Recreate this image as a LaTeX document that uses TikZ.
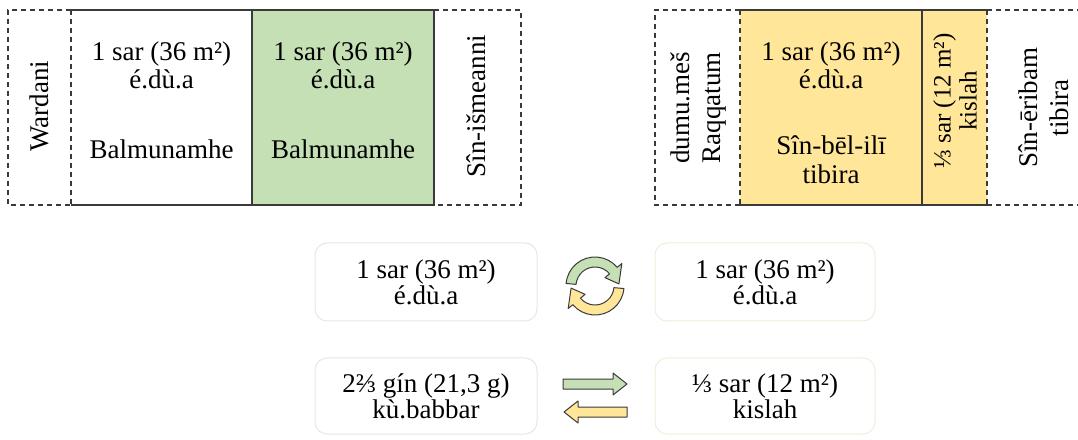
\documentclass[tikz,border=0pt]{standalone}
\usepackage{fontspec}
\setmainfont{Liberation Serif}
\newfontfamily\serf{Liberation Serif}
\definecolor{lc}{HTML}{3A3A3A}
\definecolor{gfill}{HTML}{C5E0B4}
\definecolor{yfill}{HTML}{FFE699}
\definecolor{softl}{HTML}{E6E6E2}
\definecolor{softr}{HTML}{F0EDD8}
\newcommand\fbig{\serf\fontsize{27}{31}\selectfont}
\newcommand\fmid{\serf\fontsize{25}{26}\selectfont}
\begin{document}
\begin{tikzpicture}[x=1pt,y=1pt,
  cellbox/.style={inner sep=0pt, outer sep=0pt, draw=none, minimum height=195pt},
  solidline/.style={draw=lc, line width=1.2pt},
  dashline/.style={draw=lc, line width=1.2pt, dash pattern=on 5pt off 4pt},
  txt/.style={font=\fbig, inner sep=0pt, anchor=base},
  vtxt/.style={font=\fbig, align=center, rotate=90, inner sep=0pt},
  softbox/.style={rounded corners=12pt, line width=1pt, inner sep=0pt, align=center, font=\fbig},
  fatarrow/.style={draw=lc, line width=1pt, line join=round}]
\useasboundingbox (0,0) rectangle (1078,439);
% ---------- left group ----------
\node[cellbox, minimum width=63pt] (wardani) at (39.5,331.5) {};
\node[cellbox, minimum width=181pt, fill=white] (lw) at (161.5,331.5) {};
\node[cellbox, minimum width=182pt, fill=gfill] (lg) at (343,331.5) {};
\node[cellbox, minimum width=87pt] (sini) at (477.5,331.5) {};
\draw[dashline] (lw.north west) -- (wardani.north west) -- (wardani.south west) -- (lw.south west);
\draw[dashline] (lw.north west) -- (lw.south west);
\draw[dashline] (sini.north west) -- (sini.north east) -- (sini.south east) -- (sini.south west);
\draw[solidline] (lw.north west) -- (lg.north east) -- (lg.south east) -- (lw.south west);
\draw[solidline] (lg.north west) -- (lg.south west);
\node[vtxt] (tWardani) at (39,333) {Wardani};
\node[txt] (tlw1) at (161.5,378) {1 sar (36 m²)};
\node[txt] (tlw2) at (161.5,350) {é.dù.a};
\node[txt] (tlw3) at (161.5,280) {Balmunamhe};
\node[txt] (tlg1) at (343,378) {1 sar (36 m²)};
\node[txt] (tlg2) at (343,350) {é.dù.a};
\node[txt] (tlg3) at (343,280) {Balmunamhe};
\node[vtxt] (tSini) at (476,333) {Sîn-išmeanni};
% ---------- right group ----------
\node[cellbox, minimum width=85pt] (dumu) at (697.5,331.5) {};
\node[cellbox, minimum width=182pt, fill=yfill] (ry) at (831,331.5) {};
\node[cellbox, minimum width=65pt, fill=yfill] (kis) at (954.5,331.5) {};
\node[cellbox, minimum width=113pt] (sine) at (1043.5,331.5) {};
\draw[dashline] (ry.north west) -- (dumu.north west) -- (dumu.south west) -- (ry.south west);
\draw[dashline] (ry.north west) -- (ry.south west);
\draw[dashline] (kis.north east) -- (kis.south east);
\draw[dashline] (sine.north west) -- (sine.north east);
\draw[dashline] (sine.south west) -- (sine.south east);
\draw[solidline] (ry.north west) -- (kis.north east);
\draw[solidline] (ry.south west) -- (kis.south east);
\draw[solidline] (kis.north west) -- (kis.south west);
\node[vtxt] (tDumu) at (698,331) {dumu.meš\\Raqqatum};
\node[txt] (try1) at (831,378) {1 sar (36 m²)};
\node[txt] (try2) at (831,350) {é.dù.a};
\node[txt] (try3) at (831,284) {Sîn-bēl-ilī};
\node[txt] (try4) at (831,255) {tibira};
\node[vtxt, font=\fmid] (tKis) at (955,338) {⅓ sar (12 m²)\\kislah};
\node[vtxt] (tSine) at (1044,331) {Sîn-ēribam\\tibira};
% ---------- bottom boxes ----------
\node[softbox, draw=softl, minimum width=222pt, minimum height=78pt] (b1) at (426,157) {1 sar (36 m²)\\[-5pt]é.dù.a};
\node[softbox, draw=softr, minimum width=220pt, minimum height=78pt] (b2) at (765,157) {1 sar (36 m²)\\[-5pt]é.dù.a};
\node[softbox, draw=softl, minimum width=222pt, minimum height=76pt] (b3) at (426,43) {2⅔ gín (21,3 g)\\[-5pt]kù.babbar};
\node[softbox, draw=softr, minimum width=220pt, minimum height=76pt] (b4) at (765,43) {⅓ sar (12 m²)\\[-5pt]kislah};
% ---------- circular arrows ----------
\coordinate (cyc) at (595,153);
\draw[fatarrow, fill=gfill] ([shift={(175:29pt)}]cyc) arc[start angle=175, end angle=40, radius=29pt]
  -- ([shift={(40:35pt)}]cyc) -- ([shift={(5:24pt)}]cyc) -- ([shift={(40:13pt)}]cyc)
  -- ([shift={(40:19pt)}]cyc) arc[start angle=40, end angle=175, radius=19pt] -- cycle;
\draw[fatarrow, fill=yfill] ([shift={(-5:29pt)}]cyc) arc[start angle=-5, end angle=-140, radius=29pt]
  -- ([shift={(-140:35pt)}]cyc) -- ([shift={(-175:24pt)}]cyc) -- ([shift={(-140:13pt)}]cyc)
  -- ([shift={(-140:19pt)}]cyc) arc[start angle=-140, end angle=-5, radius=19pt] -- cycle;
% ---------- straight arrows ----------
\draw[fatarrow, fill=gfill] (563,50) -- (613,50) -- (613,44) -- (627,55) -- (613,66) -- (613,60) -- (563,60) -- cycle;
\draw[fatarrow, fill=yfill] (627,22) -- (578,22) -- (578,16) -- (564,27) -- (578,38) -- (578,32) -- (627,32) -- cycle;
\end{tikzpicture}
\end{document}
